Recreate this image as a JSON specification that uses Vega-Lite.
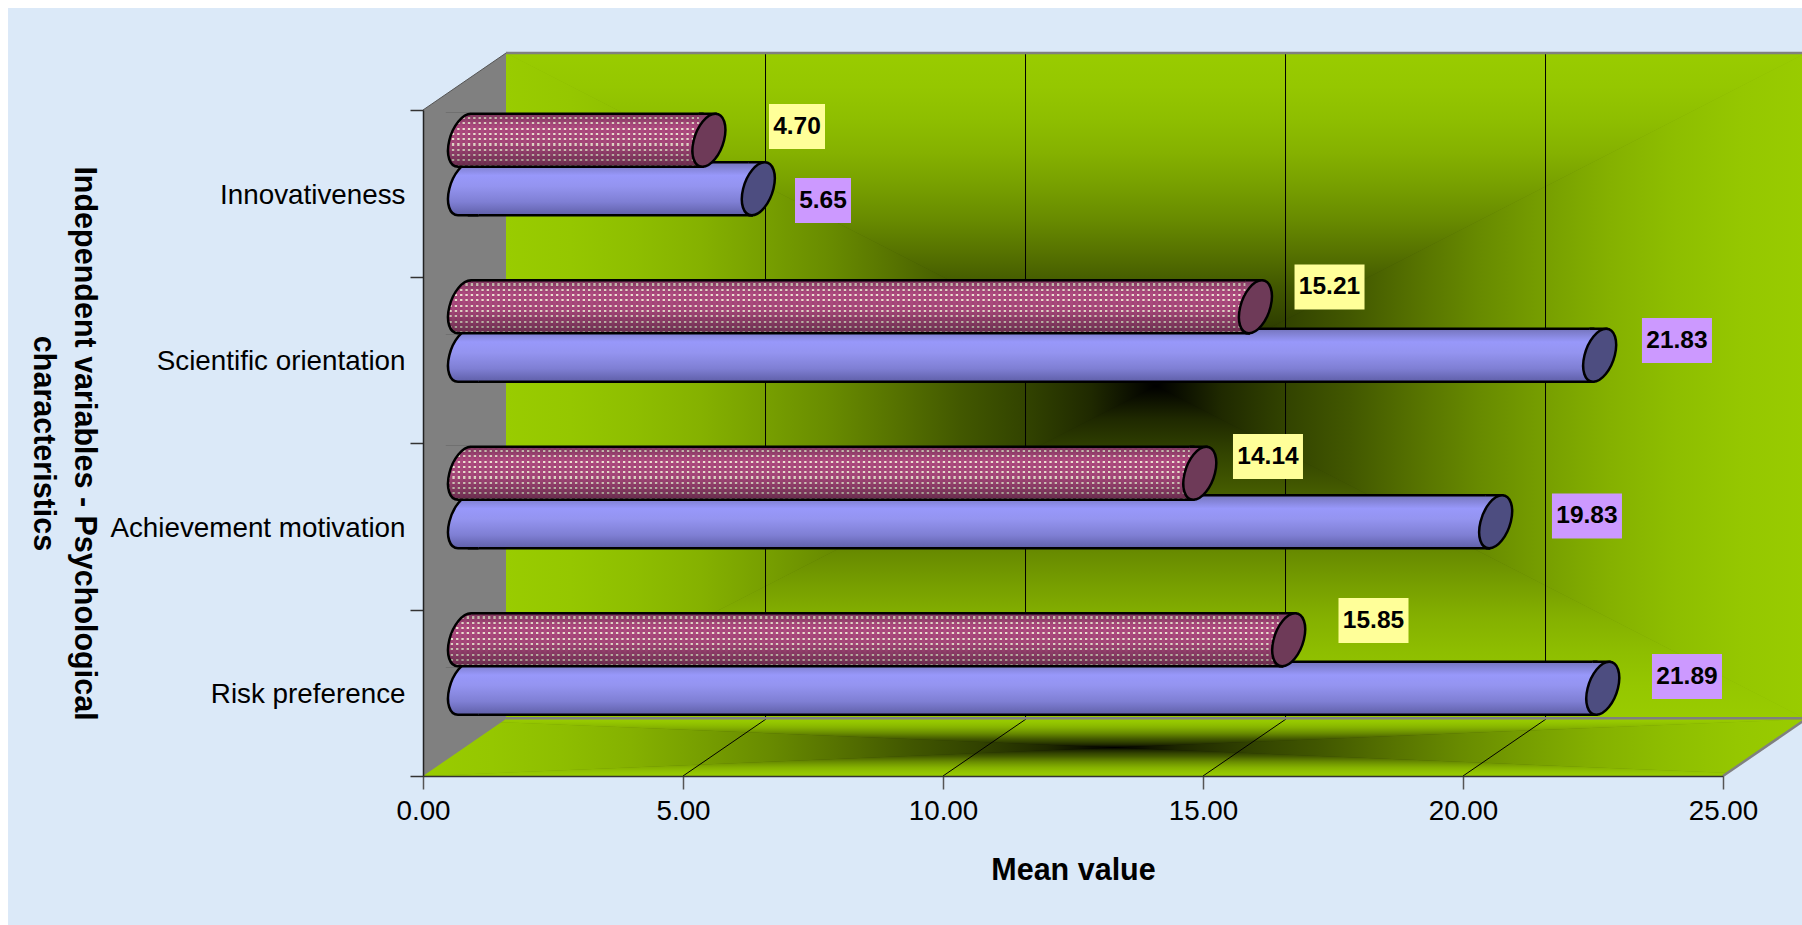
{
  "$schema": "https://vega.github.io/schema/vega-lite/v6.json",
  "width": 1300,
  "height": 666,
  "autosize": {"type": "none"},
  "padding": {"left": 423, "top": 110, "right": 79, "bottom": 149},
  "background": "#ffffff",
  "config": {
    "view": {"stroke": null},
    "font": "Liberation Sans",
    "axis": {"grid": false, "labelFont": "Liberation Sans", "titleFont": "Liberation Sans", "labelColor": "#000000", "titleColor": "#000000"}
  },
  "data": {
    "values": [
      {"category": "Innovativeness", "group": "Group 2", "mean": 4.70},
      {"category": "Innovativeness", "group": "Group 1", "mean": 5.65},
      {"category": "Scientific orientation", "group": "Group 2", "mean": 15.21},
      {"category": "Scientific orientation", "group": "Group 1", "mean": 21.83},
      {"category": "Achievement motivation", "group": "Group 2", "mean": 14.14},
      {"category": "Achievement motivation", "group": "Group 1", "mean": 19.83},
      {"category": "Risk preference", "group": "Group 2", "mean": 15.85},
      {"category": "Risk preference", "group": "Group 1", "mean": 21.89}
    ]
  },
  "resolve": {"scale": {"y": "independent"}},
  "layer": [
    {
      "layer": [
        {
          "data": {"values": [{"x": -7.98, "x2": 26.6, "y": 4.612, "y2": -0.9}]},
          "mark": {"type": "rect", "fill": "#dbe9f8"},
          "encoding": {
            "x": {"field": "x", "type": "quantitative", "scale": {"domain": [0, 25], "nice": false}, "axis": {"orient": "bottom", "zindex": 1, "values": [0, 5, 10, 15, 20, 25], "format": ".2f", "labelFlush": false, "title": "Mean value", "titleFontSize": 30.5, "titleFontWeight": "bold", "titlePadding": 31, "labelFontSize": 27.8, "labelPadding": 8, "tickSize": 13, "tickWidth": 1.5, "tickColor": "#555555", "domainColor": "#333333", "domainWidth": 1.5}},
            "x2": {"field": "x2"},
            "y": {"field": "y", "type": "quantitative", "scale": {"domain": [0, 4], "nice": false}, "axis": null},
            "y2": {"field": "y2"}
          }
        },
        {
          "data": {"values": [{"x": 0, "x2": 26.596, "y": 0, "y2": 0.342}]},
          "mark": {"type": "rect", "fill": {"gradient": "radial", "x1": 0.5, "y1": 0.5, "r1": 0, "x2": 0.5, "y2": 0.5, "r2": 0.707, "stops": [{"offset": 0, "color": "#000000"}, {"offset": 0.1, "color": "#1f2900"}, {"offset": 0.2, "color": "#324300"}, {"offset": 0.3, "color": "#425800"}, {"offset": 0.4, "color": "#567200"}, {"offset": 0.5, "color": "#688b00"}, {"offset": 0.6, "color": "#779f00"}, {"offset": 0.7, "color": "#85b100"}, {"offset": 0.8, "color": "#8ebe00"}, {"offset": 0.9, "color": "#95c700"}, {"offset": 1, "color": "#99cc00"}]}},
          "encoding": {"x": {"field": "x", "type": "quantitative"}, "x2": {"field": "x2"}, "y": {"field": "y", "type": "quantitative"}, "y2": {"field": "y2"}}
        },
        {
          "data": {"values": [{"x": 0, "y": 0.342, "y2": 0.342}, {"x": 13.298, "y": 0.342, "y2": 0.171}, {"x": 26.596, "y": 0.342, "y2": 0.342}]},
          "mark": {"type": "area", "fill": {"gradient": "linear", "x1": 0, "y1": 0, "x2": 0, "y2": 1, "stops": [{"offset": 0, "color": "#99cc00"}, {"offset": 0.1, "color": "#95c700"}, {"offset": 0.2, "color": "#8ebe00"}, {"offset": 0.3, "color": "#85b100"}, {"offset": 0.4, "color": "#779f00"}, {"offset": 0.5, "color": "#688b00"}, {"offset": 0.6, "color": "#567200"}, {"offset": 0.7, "color": "#425800"}, {"offset": 0.8, "color": "#324300"}, {"offset": 0.9, "color": "#1f2900"}, {"offset": 1, "color": "#000000"}]}},
          "encoding": {"x": {"field": "x", "type": "quantitative"}, "y": {"field": "y", "type": "quantitative"}, "y2": {"field": "y2"}}
        },
        {
          "data": {"values": [{"x": 0, "y": 0, "y2": 0}, {"x": 13.298, "y": 0.171, "y2": 0}, {"x": 26.596, "y": 0, "y2": 0}]},
          "mark": {"type": "area", "fill": {"gradient": "linear", "x1": 0, "y1": 1, "x2": 0, "y2": 0, "stops": [{"offset": 0, "color": "#99cc00"}, {"offset": 0.1, "color": "#95c700"}, {"offset": 0.2, "color": "#8ebe00"}, {"offset": 0.3, "color": "#85b100"}, {"offset": 0.4, "color": "#779f00"}, {"offset": 0.5, "color": "#688b00"}, {"offset": 0.6, "color": "#567200"}, {"offset": 0.7, "color": "#425800"}, {"offset": 0.8, "color": "#324300"}, {"offset": 0.9, "color": "#1f2900"}, {"offset": 1, "color": "#000000"}]}},
          "encoding": {"x": {"field": "x", "type": "quantitative"}, "y": {"field": "y", "type": "quantitative"}, "y2": {"field": "y2"}}
        },
        {
          "data": {"values": [{"x": 0, "y": 0.342, "y2": 0}, {"x": 13.298, "y": 0.171, "y2": 0.171}]},
          "mark": {"type": "area", "fill": {"gradient": "linear", "x1": 0, "y1": 0, "x2": 1, "y2": 0, "stops": [{"offset": 0, "color": "#99cc00"}, {"offset": 0.1, "color": "#95c700"}, {"offset": 0.2, "color": "#8ebe00"}, {"offset": 0.3, "color": "#85b100"}, {"offset": 0.4, "color": "#779f00"}, {"offset": 0.5, "color": "#688b00"}, {"offset": 0.6, "color": "#567200"}, {"offset": 0.7, "color": "#425800"}, {"offset": 0.8, "color": "#324300"}, {"offset": 0.9, "color": "#1f2900"}, {"offset": 1, "color": "#000000"}]}},
          "encoding": {"x": {"field": "x", "type": "quantitative"}, "y": {"field": "y", "type": "quantitative"}, "y2": {"field": "y2"}}
        },
        {
          "data": {"values": [{"x": 13.298, "y": 0.171, "y2": 0.171}, {"x": 26.596, "y": 0.342, "y2": 0}]},
          "mark": {"type": "area", "fill": {"gradient": "linear", "x1": 1, "y1": 0, "x2": 0, "y2": 0, "stops": [{"offset": 0, "color": "#99cc00"}, {"offset": 0.1, "color": "#95c700"}, {"offset": 0.2, "color": "#8ebe00"}, {"offset": 0.3, "color": "#85b100"}, {"offset": 0.4, "color": "#779f00"}, {"offset": 0.5, "color": "#688b00"}, {"offset": 0.6, "color": "#567200"}, {"offset": 0.7, "color": "#425800"}, {"offset": 0.8, "color": "#324300"}, {"offset": 0.9, "color": "#1f2900"}, {"offset": 1, "color": "#000000"}]}},
          "encoding": {"x": {"field": "x", "type": "quantitative"}, "y": {"field": "y", "type": "quantitative"}, "y2": {"field": "y2"}}
        },
        {
          "data": {"values": [{"x": 25, "y": 0, "y2": 0}, {"x": 26.7, "y": 0.364, "y2": 0}]},
          "mark": {"type": "area", "fill": "#dbe9f8"},
          "encoding": {"x": {"field": "x", "type": "quantitative"}, "y": {"field": "y", "type": "quantitative"}, "y2": {"field": "y2"}}
        },
        {
          "data": {"values": [{"x": 1.596, "x2": 26.596, "y": 0.342, "y2": 4.342}]},
          "mark": {"type": "rect", "fill": {"gradient": "radial", "x1": 0.5, "y1": 0.5, "r1": 0, "x2": 0.5, "y2": 0.5, "r2": 0.707, "stops": [{"offset": 0, "color": "#000000"}, {"offset": 0.1, "color": "#1f2900"}, {"offset": 0.2, "color": "#324300"}, {"offset": 0.3, "color": "#425800"}, {"offset": 0.4, "color": "#567200"}, {"offset": 0.5, "color": "#688b00"}, {"offset": 0.6, "color": "#779f00"}, {"offset": 0.7, "color": "#85b100"}, {"offset": 0.8, "color": "#8ebe00"}, {"offset": 0.9, "color": "#95c700"}, {"offset": 1, "color": "#99cc00"}]}},
          "encoding": {"x": {"field": "x", "type": "quantitative"}, "x2": {"field": "x2"}, "y": {"field": "y", "type": "quantitative"}, "y2": {"field": "y2"}}
        },
        {
          "data": {"values": [{"x": 1.596, "y": 4.342, "y2": 4.342}, {"x": 14.096, "y": 4.342, "y2": 2.342}, {"x": 26.596, "y": 4.342, "y2": 4.342}]},
          "mark": {"type": "area", "fill": {"gradient": "linear", "x1": 0, "y1": 0, "x2": 0, "y2": 1, "stops": [{"offset": 0, "color": "#99cc00"}, {"offset": 0.1, "color": "#95c700"}, {"offset": 0.2, "color": "#8ebe00"}, {"offset": 0.3, "color": "#85b100"}, {"offset": 0.4, "color": "#779f00"}, {"offset": 0.5, "color": "#688b00"}, {"offset": 0.6, "color": "#567200"}, {"offset": 0.7, "color": "#425800"}, {"offset": 0.8, "color": "#324300"}, {"offset": 0.9, "color": "#1f2900"}, {"offset": 1, "color": "#000000"}]}},
          "encoding": {"x": {"field": "x", "type": "quantitative"}, "y": {"field": "y", "type": "quantitative"}, "y2": {"field": "y2"}}
        },
        {
          "data": {"values": [{"x": 1.596, "y": 0.342, "y2": 0.342}, {"x": 14.096, "y": 2.342, "y2": 0.342}, {"x": 26.596, "y": 0.342, "y2": 0.342}]},
          "mark": {"type": "area", "fill": {"gradient": "linear", "x1": 0, "y1": 1, "x2": 0, "y2": 0, "stops": [{"offset": 0, "color": "#99cc00"}, {"offset": 0.1, "color": "#95c700"}, {"offset": 0.2, "color": "#8ebe00"}, {"offset": 0.3, "color": "#85b100"}, {"offset": 0.4, "color": "#779f00"}, {"offset": 0.5, "color": "#688b00"}, {"offset": 0.6, "color": "#567200"}, {"offset": 0.7, "color": "#425800"}, {"offset": 0.8, "color": "#324300"}, {"offset": 0.9, "color": "#1f2900"}, {"offset": 1, "color": "#000000"}]}},
          "encoding": {"x": {"field": "x", "type": "quantitative"}, "y": {"field": "y", "type": "quantitative"}, "y2": {"field": "y2"}}
        },
        {
          "data": {"values": [{"x": 1.596, "y": 4.342, "y2": 0.342}, {"x": 14.096, "y": 2.342, "y2": 2.342}]},
          "mark": {"type": "area", "fill": {"gradient": "linear", "x1": 0, "y1": 0, "x2": 1, "y2": 0, "stops": [{"offset": 0, "color": "#99cc00"}, {"offset": 0.1, "color": "#95c700"}, {"offset": 0.2, "color": "#8ebe00"}, {"offset": 0.3, "color": "#85b100"}, {"offset": 0.4, "color": "#779f00"}, {"offset": 0.5, "color": "#688b00"}, {"offset": 0.6, "color": "#567200"}, {"offset": 0.7, "color": "#425800"}, {"offset": 0.8, "color": "#324300"}, {"offset": 0.9, "color": "#1f2900"}, {"offset": 1, "color": "#000000"}]}},
          "encoding": {"x": {"field": "x", "type": "quantitative"}, "y": {"field": "y", "type": "quantitative"}, "y2": {"field": "y2"}}
        },
        {
          "data": {"values": [{"x": 14.096, "y": 2.342, "y2": 2.342}, {"x": 26.596, "y": 4.342, "y2": 0.342}]},
          "mark": {"type": "area", "fill": {"gradient": "linear", "x1": 1, "y1": 0, "x2": 0, "y2": 0, "stops": [{"offset": 0, "color": "#99cc00"}, {"offset": 0.1, "color": "#95c700"}, {"offset": 0.2, "color": "#8ebe00"}, {"offset": 0.3, "color": "#85b100"}, {"offset": 0.4, "color": "#779f00"}, {"offset": 0.5, "color": "#688b00"}, {"offset": 0.6, "color": "#567200"}, {"offset": 0.7, "color": "#425800"}, {"offset": 0.8, "color": "#324300"}, {"offset": 0.9, "color": "#1f2900"}, {"offset": 1, "color": "#000000"}]}},
          "encoding": {"x": {"field": "x", "type": "quantitative"}, "y": {"field": "y", "type": "quantitative"}, "y2": {"field": "y2"}}
        },
        {
          "data": {"values": [{"x": 0, "y": 4, "y2": 0}, {"x": 1.596, "y": 4.342, "y2": 0.342}]},
          "mark": {"type": "area", "fill": "#808080"},
          "encoding": {"x": {"field": "x", "type": "quantitative"}, "y": {"field": "y", "type": "quantitative"}, "y2": {"field": "y2"}}
        },
        {
          "data": {"values": [{"x": 6.587, "y": 0.342, "y2": 4.342}, {"x": 11.587, "y": 0.342, "y2": 4.342}, {"x": 16.587, "y": 0.342, "y2": 4.342}, {"x": 21.587, "y": 0.342, "y2": 4.342}]},
          "mark": {"type": "rule", "stroke": "#000000", "strokeWidth": 1},
          "encoding": {"x": {"field": "x", "type": "quantitative"}, "y": {"field": "y", "type": "quantitative"}, "y2": {"field": "y2"}}
        },
        {
          "data": {"values": [{"x": 5, "x2": 6.596, "y": 0, "y2": 0.342}, {"x": 10, "x2": 11.596, "y": 0, "y2": 0.342}, {"x": 15, "x2": 16.596, "y": 0, "y2": 0.342}, {"x": 20, "x2": 21.596, "y": 0, "y2": 0.342}]},
          "mark": {"type": "rule", "stroke": "#000000", "strokeWidth": 1},
          "encoding": {"x": {"field": "x", "type": "quantitative"}, "x2": {"field": "x2"}, "y": {"field": "y", "type": "quantitative"}, "y2": {"field": "y2"}}
        },
        {
          "data": {"values": [{"x": 1.596, "x2": 26.7, "y": 0.347, "y2": 0.347}, {"x": 1.596, "x2": 26.7, "y": 4.342, "y2": 4.342}, {"x": 25, "x2": 26.596, "y": 0, "y2": 0.342}]},
          "mark": {"type": "rule", "stroke": "#808080", "strokeWidth": 2.5},
          "encoding": {"x": {"field": "x", "type": "quantitative"}, "x2": {"field": "x2"}, "y": {"field": "y", "type": "quantitative"}, "y2": {"field": "y2"}}
        },
        {
          "data": {"values": [{"x": 0, "x2": 1.596, "y": 4, "y2": 4.342}]},
          "mark": {"type": "rule", "stroke": "#555555", "strokeWidth": 1},
          "encoding": {"x": {"field": "x", "type": "quantitative"}, "x2": {"field": "x2"}, "y": {"field": "y", "type": "quantitative"}, "y2": {"field": "y2"}}
        }
      ]
    },
    {
      "transform": [{"filter": "datum.group === 'Group 1'"}],
      "layer": [
        {
          "mark": {"type": "bar", "height": 53, "xOffset": 35, "x2Offset": 46, "yOffset": -4.5, "stroke": "#000000", "strokeWidth": 2.5, "fill": {"gradient": "linear", "x1": 0, "y1": 0, "x2": 0, "y2": 1, "stops": [{"offset": 0, "color": "#7474bc"}, {"offset": 0.25, "color": "#9898fa"}, {"offset": 0.45, "color": "#9494f0"}, {"offset": 0.75, "color": "#7f7fd4"}, {"offset": 1, "color": "#5f5fa8"}]}},
          "encoding": {
            "x": {"field": "mean", "type": "quantitative"},
            "x2": {"datum": 0},
            "y": {"field": "category", "type": "nominal", "scale": {"type": "band", "paddingInner": 0, "paddingOuter": 0, "domain": ["Innovativeness", "Scientific orientation", "Achievement motivation", "Risk preference"]}, "axis": {"orient": "left", "zindex": 1, "title": ["Independent variables - Psychological", "characteristics"], "titleAngle": 90, "titleFontSize": 30.5, "titleFontWeight": "bold", "titleLineHeight": 41, "titleBaseline": "alphabetic", "titleAlign": "center", "titleX": -349, "titleY": 333, "labelFontSize": 27.8, "labelPadding": 5, "labelOffset": 2, "labelLimit": 400, "tickSize": 13, "tickBand": "extent", "tickWidth": 1.5, "tickColor": "#333333", "domainColor": "#222222", "domainWidth": 1.5}}
          }
        },
        {
          "mark": {"type": "point", "filled": true, "opacity": 1, "size": 4, "xOffset": 41.5, "yOffset": -4.5, "stroke": "#000000", "strokeWidth": 2.5, "fill": {"gradient": "linear", "x1": 0, "y1": 0, "x2": 0, "y2": 1, "stops": [{"offset": 0, "color": "#7474bc"}, {"offset": 0.25, "color": "#9898fa"}, {"offset": 0.45, "color": "#9494f0"}, {"offset": 0.75, "color": "#7f7fd4"}, {"offset": 1, "color": "#5f5fa8"}]}, "shape": "M14 -26.5L6.5 -26.5C-1.88 -26.5 -11.58 -14.64 -15.17 0C-18.76 14.64 -14.88 26.5 -6.5 26.5L14 26.5"},
          "encoding": {"x": {"datum": 0}, "y": {"field": "category", "type": "nominal"}}
        },
        {
          "mark": {"type": "point", "filled": true, "opacity": 1, "size": 4, "xOffset": 41.5, "yOffset": -4.5, "stroke": "#000000", "strokeWidth": 2.5, "fill": {"gradient": "linear", "x1": 0, "y1": 0, "x2": 0, "y2": 1, "stops": [{"offset": 0, "color": "#7474bc"}, {"offset": 0.25, "color": "#9898fa"}, {"offset": 0.45, "color": "#9494f0"}, {"offset": 0.75, "color": "#7f7fd4"}, {"offset": 1, "color": "#5f5fa8"}]}, "shape": "M-10 -26.5L6.5 -26.5L-6.5 26.5L-10 26.5"},
          "encoding": {"x": {"field": "mean", "type": "quantitative"}, "y": {"field": "category", "type": "nominal"}}
        },
        {
          "mark": {"type": "point", "filled": true, "opacity": 1, "size": 4, "xOffset": 41.5, "yOffset": -4.5, "stroke": "#000000", "strokeWidth": 2.5, "fill": "#4d4d80", "shape": "M15.17 0C18.76 -14.64 14.88 -26.5 6.5 -26.5C-1.88 -26.5 -11.58 -14.64 -15.17 0C-18.76 14.64 -14.88 26.5 -6.5 26.5C1.88 26.5 11.58 14.64 15.17 0Z"},
          "encoding": {"x": {"field": "mean", "type": "quantitative"}, "y": {"field": "category", "type": "nominal"}}
        }
      ]
    },
    {
      "transform": [{"filter": "datum.group === 'Group 2'"}],
      "layer": [
        {
          "mark": {"type": "bar", "height": 53, "xOffset": 35, "x2Offset": 24, "yOffset": -53, "fill": {"gradient": "linear", "x1": 0, "y1": 0, "x2": 0, "y2": 1, "stops": [{"offset": 0, "color": "#a8457a"}, {"offset": 0.06, "color": "#a8457a"}, {"offset": 0.06, "color": "#efe2d2"}, {"offset": 0.1, "color": "#efe2d2"}, {"offset": 0.1, "color": "#a8457a"}, {"offset": 0.16, "color": "#a8457a"}, {"offset": 0.16, "color": "#efe2d2"}, {"offset": 0.2, "color": "#efe2d2"}, {"offset": 0.2, "color": "#a8457a"}, {"offset": 0.26, "color": "#a8457a"}, {"offset": 0.26, "color": "#efe2d2"}, {"offset": 0.3, "color": "#efe2d2"}, {"offset": 0.3, "color": "#a8457a"}, {"offset": 0.36, "color": "#a8457a"}, {"offset": 0.36, "color": "#efe2d2"}, {"offset": 0.4, "color": "#efe2d2"}, {"offset": 0.4, "color": "#a8457a"}, {"offset": 0.46, "color": "#a8457a"}, {"offset": 0.46, "color": "#efe2d2"}, {"offset": 0.5, "color": "#efe2d2"}, {"offset": 0.5, "color": "#a8457a"}, {"offset": 0.56, "color": "#a8457a"}, {"offset": 0.56, "color": "#efe2d2"}, {"offset": 0.6, "color": "#efe2d2"}, {"offset": 0.6, "color": "#a8457a"}, {"offset": 0.66, "color": "#a8457a"}, {"offset": 0.66, "color": "#efe2d2"}, {"offset": 0.7, "color": "#efe2d2"}, {"offset": 0.7, "color": "#a8457a"}, {"offset": 0.76, "color": "#a8457a"}, {"offset": 0.76, "color": "#efe2d2"}, {"offset": 0.8, "color": "#efe2d2"}, {"offset": 0.8, "color": "#a8457a"}, {"offset": 0.86, "color": "#a8457a"}, {"offset": 0.86, "color": "#efe2d2"}, {"offset": 0.9, "color": "#efe2d2"}, {"offset": 0.9, "color": "#a8457a"}, {"offset": 0.96, "color": "#a8457a"}, {"offset": 0.96, "color": "#efe2d2"}, {"offset": 1, "color": "#efe2d2"}]}},
          "encoding": {
            "x": {"field": "mean", "type": "quantitative"},
            "x2": {"datum": 0},
            "y": {"field": "category", "type": "nominal", "scale": {"type": "band", "paddingInner": 0, "paddingOuter": 0, "domain": ["Innovativeness", "Scientific orientation", "Achievement motivation", "Risk preference"]}, "axis": null}
          }
        },
        {
          "mark": {"type": "rule", "stroke": "#ae4c80", "strokeWidth": 53, "strokeDash": [3, 2.33], "xOffset": 35, "x2Offset": 24, "yOffset": -53},
          "encoding": {"x": {"field": "mean", "type": "quantitative"}, "x2": {"datum": 0}, "y": {"field": "category", "type": "nominal"}}
        },
        {
          "mark": {"type": "bar", "height": 53, "xOffset": 35, "x2Offset": 24, "yOffset": -53, "stroke": "#000000", "strokeWidth": 2.5, "fill": {"gradient": "linear", "x1": 0, "y1": 0, "x2": 0, "y2": 1, "stops": [{"offset": 0, "color": "rgba(0,0,0,0.28)"}, {"offset": 0.25, "color": "rgba(0,0,0,0)"}, {"offset": 0.55, "color": "rgba(0,0,0,0.05)"}, {"offset": 1, "color": "rgba(0,0,0,0.4)"}]}},
          "encoding": {"x": {"field": "mean", "type": "quantitative"}, "x2": {"datum": 0}, "y": {"field": "category", "type": "nominal"}}
        },
        {
          "mark": {"type": "point", "filled": true, "opacity": 1, "size": 4, "xOffset": 41.5, "yOffset": -53, "fill": "#808080", "stroke": null, "shape": "M-20 -28L6.5 -28L6.5 -26.5C-1.88 -26.5 -11.58 -14.64 -15.17 0C-18.76 14.64 -14.88 26.5 -6.5 26.5L-6.5 28L-20 28Z"},
          "encoding": {"x": {"datum": 0}, "y": {"field": "category", "type": "nominal"}}
        },
        {
          "mark": {"type": "point", "filled": false, "opacity": 1, "size": 4, "xOffset": 41.5, "yOffset": -53, "stroke": "#000000", "strokeWidth": 2.5, "shape": "M6.5 -26.5C-1.88 -26.5 -11.58 -14.64 -15.17 0C-18.76 14.64 -14.88 26.5 -6.5 26.5"},
          "encoding": {"x": {"datum": 0}, "y": {"field": "category", "type": "nominal"}}
        },
        {
          "mark": {"type": "point", "filled": true, "opacity": 1, "size": 4, "xOffset": 41.5, "yOffset": -53, "stroke": "#000000", "strokeWidth": 2.5, "fill": {"gradient": "linear", "x1": 0, "y1": 0, "x2": 0, "y2": 1, "stops": [{"offset": 0, "color": "#7e3a62"}, {"offset": 0.3, "color": "#b0688e"}, {"offset": 0.7, "color": "#a0587e"}, {"offset": 1, "color": "#6c3454"}]}, "shape": "M-10 -26.5L6.5 -26.5L-6.5 26.5L-10 26.5"},
          "encoding": {"x": {"field": "mean", "type": "quantitative"}, "y": {"field": "category", "type": "nominal"}}
        },
        {
          "mark": {"type": "point", "filled": true, "opacity": 1, "size": 4, "xOffset": 41.5, "yOffset": -53, "stroke": "#000000", "strokeWidth": 2.5, "fill": "#6e3a58", "shape": "M15.17 0C18.76 -14.64 14.88 -26.5 6.5 -26.5C-1.88 -26.5 -11.58 -14.64 -15.17 0C-18.76 14.64 -14.88 26.5 -6.5 26.5C1.88 26.5 11.58 14.64 15.17 0Z"},
          "encoding": {"x": {"field": "mean", "type": "quantitative"}, "y": {"field": "category", "type": "nominal"}}
        }
      ]
    },
    {
      "transform": [{"filter": "datum.group === 'Group 2'"}],
      "layer": [
        {
          "mark": {"type": "point", "filled": true, "opacity": 1, "size": 4, "fill": "#ffff99", "stroke": null, "xOffset": {"expr": "{'Innovativeness':129.6,'Scientific orientation':115.6,'Achievement motivation':109.7,'Risk preference':126.3}[datum.category]"}, "yOffset": {"expr": "{'Innovativeness':-66.75,'Scientific orientation':-72.75,'Achievement motivation':-69.75,'Risk preference':-72.25}[datum.category]"}},
          "encoding": {
            "x": {"field": "mean", "type": "quantitative"},
            "y": {"field": "category", "type": "nominal", "scale": {"type": "band", "paddingInner": 0, "paddingOuter": 0, "domain": ["Innovativeness", "Scientific orientation", "Achievement motivation", "Risk preference"]}, "axis": null},
            "shape": {"condition": {"test": "datum.mean < 10", "value": "M-28 -22.5L28 -22.5L28 22.5L-28 22.5Z"}, "value": "M-35 -22.5L35 -22.5L35 22.5L-35 22.5Z"}
          }
        },
        {
          "mark": {"type": "text", "font": "Liberation Sans", "fontWeight": "bold", "fontSize": 24.5, "color": "#000000", "align": "center", "baseline": "middle", "xOffset": {"expr": "{'Innovativeness':129.6,'Scientific orientation':115.6,'Achievement motivation':109.7,'Risk preference':126.3}[datum.category]"}, "yOffset": {"expr": "{'Innovativeness':-66.75,'Scientific orientation':-72.75,'Achievement motivation':-69.75,'Risk preference':-72.25}[datum.category]"}},
          "encoding": {
            "x": {"field": "mean", "type": "quantitative"},
            "y": {"field": "category", "type": "nominal"},
            "text": {"field": "mean", "type": "quantitative", "format": ".2f"}
          }
        }
      ]
    },
    {
      "transform": [{"filter": "datum.group === 'Group 1'"}],
      "layer": [
        {
          "mark": {"type": "point", "filled": true, "opacity": 1, "size": 4, "fill": "#cc99ff", "stroke": null, "xOffset": {"expr": "{'Innovativeness':106.2,'Scientific orientation':118.8,'Achievement motivation':132.8,'Risk preference':125.7}[datum.category]"}, "yOffset": {"expr": "{'Innovativeness':7.25,'Scientific orientation':-19.25,'Achievement motivation':-10.25,'Risk preference':-16.25}[datum.category]"}},
          "encoding": {
            "x": {"field": "mean", "type": "quantitative"},
            "y": {"field": "category", "type": "nominal", "scale": {"type": "band", "paddingInner": 0, "paddingOuter": 0, "domain": ["Innovativeness", "Scientific orientation", "Achievement motivation", "Risk preference"]}, "axis": null},
            "shape": {"condition": {"test": "datum.mean < 10", "value": "M-28 -22.5L28 -22.5L28 22.5L-28 22.5Z"}, "value": "M-35 -22.5L35 -22.5L35 22.5L-35 22.5Z"}
          }
        },
        {
          "mark": {"type": "text", "font": "Liberation Sans", "fontWeight": "bold", "fontSize": 24.5, "color": "#000000", "align": "center", "baseline": "middle", "xOffset": {"expr": "{'Innovativeness':106.2,'Scientific orientation':118.8,'Achievement motivation':132.8,'Risk preference':125.7}[datum.category]"}, "yOffset": {"expr": "{'Innovativeness':7.25,'Scientific orientation':-19.25,'Achievement motivation':-10.25,'Risk preference':-16.25}[datum.category]"}},
          "encoding": {
            "x": {"field": "mean", "type": "quantitative"},
            "y": {"field": "category", "type": "nominal"},
            "text": {"field": "mean", "type": "quantitative", "format": ".2f"}
          }
        }
      ]
    }
  ]
}
